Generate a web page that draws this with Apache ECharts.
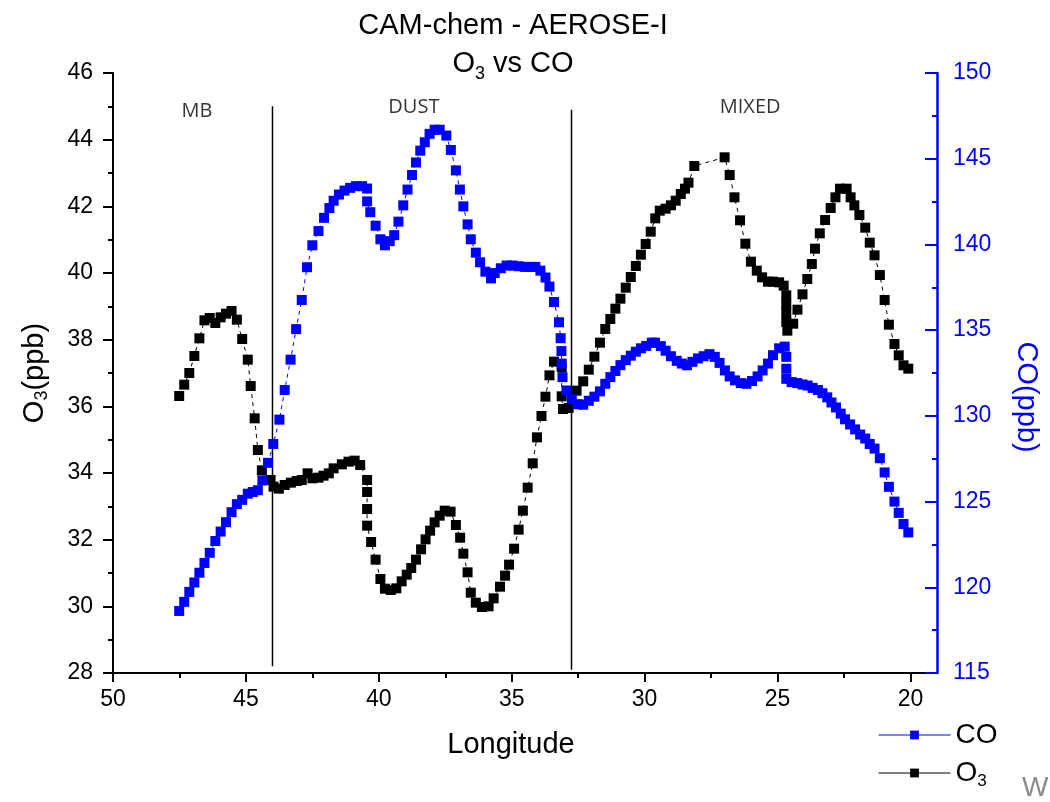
<!DOCTYPE html>
<html>
<head>
<meta charset="utf-8">
<script src="https://cdn.jsdelivr.net/npm/echarts@6/dist/echarts.min.js"></script>
<style>
    html, body { margin: 0; padding: 0; background: #fff; }
    #chart { width: 1050px; height: 802px; }
</style>
</head>
<body>
<div id="chart"></div>
<script>
// longitude (deg) / values
let o3Lon = [47.51, 47.32, 47.13, 46.94, 46.75, 46.56, 46.36, 46.15, 45.95, 45.75, 45.54, 45.34, 45.14, 44.93,
    44.82, 44.67, 44.55, 44.40, 44.07, 43.96, 43.76, 43.54, 43.31, 43.09, 42.90, 42.68, 42.50, 42.27, 42.08,
    41.88, 41.70, 41.39, 41.14, 40.91, 40.70, 40.44, 40.44, 40.44, 40.44, 40.29, 40.12, 39.94, 39.77, 39.55,
    39.34, 39.14, 38.95, 38.78, 38.60, 38.41, 38.24, 38.07, 37.90, 37.71, 37.52, 37.30, 37.10, 36.94, 36.82,
    36.66, 36.54, 36.35, 36.12, 35.87, 35.68, 35.44, 35.25, 35.10, 34.91, 34.74, 34.58, 34.40, 34.21, 34.05,
    33.88, 33.73, 33.58, 33.41, 33.12, 33.12, 33.07, 32.86, 32.56, 32.31, 32.10, 31.89, 31.68, 31.48, 31.29,
    31.10, 30.91, 30.71, 30.52, 30.33, 30.14, 29.96, 29.77, 29.60, 29.43, 29.21, 29.01, 28.83, 28.64, 28.48,
    28.35, 28.13, 26.99, 26.80, 26.62, 26.41, 26.21, 26.00, 25.78, 25.58, 25.36, 25.17, 24.94, 24.77, 24.67,
    24.67, 24.67, 24.67, 24.63, 24.41, 24.25, 24.06, 23.88, 23.71, 23.59, 23.41, 23.21, 23.00, 22.82, 22.65,
    22.40, 22.25, 22.11, 21.92, 21.70, 21.53, 21.35, 21.15, 20.97, 20.81, 20.60, 20.44, 20.26, 20.08];
let o3Val = [36.31, 36.65, 37.00, 37.51, 38.04, 38.58, 38.65, 38.50, 38.67, 38.78, 38.86, 38.60, 38.02, 37.40,
    36.61, 35.64, 34.69, 34.08, 33.79, 33.59, 33.53, 33.64, 33.71, 33.76, 33.79, 33.99, 33.84, 33.86, 33.92,
    33.99, 34.14, 34.26, 34.34, 34.37, 34.24, 33.79, 33.43, 32.92, 32.42, 31.93, 31.40, 30.82, 30.53, 30.49,
    30.54, 30.75, 30.95, 31.15, 31.40, 31.71, 32.01, 32.27, 32.52, 32.72, 32.87, 32.84, 32.44, 32.06, 31.58,
    31.02, 30.41, 30.11, 29.98, 30.00, 30.24, 30.59, 30.92, 31.25, 31.73, 32.30, 32.87, 33.56, 34.29, 35.07,
    35.71, 36.29, 36.93, 37.34, 37.18, 36.30, 35.92, 35.95, 36.47, 36.75, 37.10, 37.49, 37.91, 38.32, 38.62,
    38.93, 39.23, 39.56, 39.88, 40.21, 40.55, 40.87, 41.24, 41.64, 41.87, 41.93, 42.03, 42.17, 42.37, 42.53,
    42.71, 43.21, 43.47, 42.94, 42.27, 41.58, 40.88, 40.34, 40.07, 39.87, 39.74, 39.74, 39.72, 39.62, 39.33,
    39.06, 38.81, 38.53, 38.27, 38.48, 38.90, 39.36, 39.82, 40.27, 40.73, 41.19, 41.59, 41.95, 42.27, 42.53,
    42.53, 42.27, 42.03, 41.74, 41.36, 40.91, 40.53, 39.94, 39.19, 38.45, 37.87, 37.53, 37.23, 37.13];

let coLon = [47.51, 47.32, 47.13, 46.94, 46.75, 46.56, 46.36, 46.15, 45.95, 45.75, 45.54, 45.34, 45.14, 44.93,
    44.74, 44.55, 44.38, 44.17, 43.97, 43.74, 43.54, 43.32, 43.11, 42.90, 42.70, 42.50, 42.27, 42.06, 41.86,
    41.70, 41.50, 41.29, 41.08, 40.86, 40.63, 40.44, 40.44, 40.32, 40.12, 39.94, 39.77, 39.59, 39.42, 39.26,
    39.08, 38.92, 38.75, 38.60, 38.44, 38.27, 38.09, 37.90, 37.71, 37.46, 37.29, 37.10, 36.95, 36.82, 36.66,
    36.54, 36.35, 36.19, 35.99, 35.78, 35.64, 35.41, 35.19, 34.97, 34.74, 34.51, 34.30, 34.11, 33.92, 33.73,
    33.58, 33.41, 33.22, 33.16, 33.13, 33.12, 33.09, 32.94, 32.74, 32.52, 32.31, 32.10, 31.89, 31.68, 31.48,
    31.29, 31.10, 30.91, 30.71, 30.52, 30.33, 30.14, 29.94, 29.73, 29.61, 29.39, 29.21, 29.01, 28.79, 28.60,
    28.41, 28.20, 27.99, 27.78, 27.56, 27.36, 27.18, 26.98, 26.80, 26.60, 26.38, 26.17, 25.96, 25.75, 25.56,
    25.36, 25.17, 24.94, 24.73, 24.67, 24.67, 24.67, 24.47, 24.26, 24.06, 23.87, 23.68, 23.48, 23.31, 23.13,
    22.97, 22.80, 22.62, 22.46, 22.27, 22.08, 21.89, 21.70, 21.53, 21.35, 21.15, 20.97, 20.81, 20.60, 20.44,
    20.26, 20.08];
let coVal = [118.62, 119.15, 119.73, 120.28, 120.85, 121.42, 122.01, 122.70, 123.25, 123.80, 124.38, 124.85,
    125.10, 125.46, 125.56, 125.66, 126.23, 127.26, 128.36, 129.78, 131.51, 133.28, 135.06, 136.76, 138.67,
    139.95, 140.78, 141.55, 142.12, 142.55, 142.91, 143.14, 143.30, 143.40, 143.40, 143.26, 142.51, 141.88,
    141.09, 140.30, 139.95, 140.19, 140.54, 141.33, 142.28, 143.20, 144.05, 144.78, 145.47, 145.96, 146.45,
    146.69, 146.69, 146.35, 145.51, 144.32, 143.20, 142.22, 141.17, 140.30, 139.52, 138.96, 138.41, 138.02,
    138.33, 138.61, 138.77, 138.77, 138.73, 138.69, 138.69, 138.69, 138.47, 138.07, 137.54, 136.64, 135.46,
    134.53, 133.78, 133.05, 132.26, 131.48, 130.98, 130.68, 130.65, 130.88, 131.12, 131.43, 131.87, 132.26,
    132.62, 132.96, 133.25, 133.51, 133.74, 133.94, 134.08, 134.27, 134.27, 134.07, 133.80, 133.48, 133.21,
    133.05, 132.95, 133.15, 133.35, 133.48, 133.60, 133.44, 133.09, 132.65, 132.30, 132.07, 131.91, 131.87,
    132.03, 132.30, 132.65, 133.05, 133.54, 133.94, 134.04, 133.44, 132.75, 132.16, 131.97, 131.91, 131.83,
    131.77, 131.63, 131.51, 131.32, 131.08, 130.78, 130.49, 130.13, 129.80, 129.50, 129.21, 128.91, 128.68,
    128.36, 128.09, 127.53, 126.70, 125.86, 125.00, 124.34, 123.69, 123.20];

// region labels and divider lines
let regionNames = ['MB', 'DUST', 'MIXED'];
let regionLon = [46.84, 38.68, 26.03];
let regionO3 = [44.86, 44.98, 44.96];
let dividerLon = [44.0, 32.75];
let dividerBottom = [28.2, 28.1];
let dividerTop = [45.0, 44.9];

// tick labels
let xMajorTicks = [20, 25, 30, 35, 40, 45, 50];
let xMinorTicks = [22.5, 27.5, 32.5, 37.5, 42.5, 47.5];

(function () {
    let chart = echarts.init(document.getElementById('chart'));
    let font = "'Liberation Sans', Arial, sans-serif";
    let blue = '#0000ff';

    let pairs = function (xs, ys) {
        return xs.map(function (x, i) { return [x, ys[i]]; });
    };

    let dividers = dividerLon.map(function (lon, i) {
        return {
            type: 'line',
            silent: true,
            symbol: 'none',
            yAxisIndex: 0,
            data: [[lon, dividerBottom[i]], [lon, dividerTop[i]]],
            lineStyle: { color: '#000', width: 1.5 },
            z: 1
        };
    });

    let option = {
        animation: false,
        backgroundColor: '#fff',
        textStyle: { fontFamily: font },
        title: {
            left: 508,
            top: 2,
            textAlign: 'center',
            text: '{t|CAM-chem - AEROSE-I}\n{t|O}{s|3}{t| vs CO}',
            textStyle: {
                fontWeight: 'normal',
                rich: {
                    t: { fontSize: 29, lineHeight: 38, color: '#000', fontWeight: 'normal', fontFamily: font },
                    s: { fontSize: 18, lineHeight: 18, verticalAlign: 'bottom', color: '#000', fontWeight: 'normal', fontFamily: font }
                }
            }
        },
        legend: {
            orient: 'vertical',
            left: 873,
            top: 716,
            itemWidth: 72,
            itemHeight: 11,
            itemGap: 10,
            data: ['CO', 'O3'],
            lineStyle: { type: 'solid', width: 1 },
            formatter: function (name) {
                return name === 'O3' ? '{n|O}{s|3}' : '{n|CO}';
            },
            textStyle: {
                rich: {
                    n: { fontSize: 28, lineHeight: 34, color: '#000', fontFamily: font },
                    s: { fontSize: 17, lineHeight: 17, verticalAlign: 'bottom', color: '#000', fontFamily: font }
                }
            }
        },
        graphic: [{
            type: 'text',
            left: 1022,
            top: 774,
            style: { text: 'W', fontSize: 28, fontFamily: font, fill: '#8c8c8c' }
        }],
        grid: { left: 113, right: 113, top: 73, bottom: 129 },
        xAxis: [{
            type: 'value',
            min: 19,
            max: 50,
            inverse: true,
            position: 'bottom',
            name: 'Longitude',
            nameLocation: 'middle',
            nameGap: 57,
            nameTextStyle: { fontSize: 29, color: '#000', padding: [0, 28, 0, 0] },
            axisLine: { lineStyle: { color: '#000', width: 2 } },
            axisTick: { customValues: xMajorTicks, length: 9, lineStyle: { width: 2, color: '#000' } },
            axisLabel: { customValues: xMajorTicks, fontSize: 23, color: '#000', margin: 15 },
            splitLine: { show: false }
        }, {
            // minor ticks only
            type: 'value',
            min: 19,
            max: 50,
            inverse: true,
            position: 'bottom',
            axisLine: { show: false },
            axisTick: { customValues: xMinorTicks, length: 5, lineStyle: { width: 2, color: '#000' } },
            axisLabel: { show: false },
            splitLine: { show: false }
        }],
        yAxis: [{
            type: 'value',
            min: 28,
            max: 46,
            interval: 2,
            position: 'left',
            name: '{a|O}{s|3}{a|(ppb)}',
            nameLocation: 'middle',
            nameGap: 62,
            nameTextStyle: {
                rich: {
                    a: { fontSize: 29, lineHeight: 32, color: '#000', fontFamily: font },
                    s: { fontSize: 18, lineHeight: 18, verticalAlign: 'bottom', color: '#000', fontFamily: font }
                }
            },
            axisLine: { show: true, lineStyle: { color: '#000', width: 2 } },
            axisTick: { show: true, length: 10, lineStyle: { width: 2, color: '#000' } },
            minorTick: { show: true, splitNumber: 2, length: 5, lineStyle: { width: 2, color: '#000' } },
            axisLabel: { fontSize: 23, color: '#000', margin: 20 },
            splitLine: { show: false }
        }, {
            type: 'value',
            min: 115,
            max: 150,
            interval: 5,
            position: 'right',
            name: 'CO(ppb)',
            nameLocation: 'middle',
            nameRotate: -90,
            nameGap: 74,
            nameTextStyle: { fontSize: 29, color: blue, padding: [0, 0, 0, 48] },
            axisLine: { show: true, lineStyle: { color: blue, width: 2.5 } },
            axisTick: { show: true, inside: true, length: 12, lineStyle: { width: 2, color: blue } },
            minorTick: { show: true, splitNumber: 2, length: 5, lineStyle: { width: 2, color: blue } },
            axisLabel: { fontSize: 23, color: blue, margin: 16 },
            splitLine: { show: false }
        }],
        series: dividers.concat([
            {
                name: 'O3',
                type: 'line',
                yAxisIndex: 0,
                data: pairs(o3Lon, o3Val),
                symbol: 'rect',
                symbolSize: 10,
                showAllSymbol: true,
                itemStyle: { color: '#000' },
                lineStyle: { color: '#000', width: 1, type: [4, 4] },
                z: 3
            },
            {
                name: 'CO',
                type: 'line',
                yAxisIndex: 1,
                data: pairs(coLon, coVal),
                symbol: 'rect',
                symbolSize: 10,
                showAllSymbol: true,
                itemStyle: { color: blue },
                lineStyle: { color: blue, width: 1, type: [4, 4] },
                z: 4
            },
            {
                name: 'regions',
                type: 'scatter',
                yAxisIndex: 0,
                silent: true,
                symbolSize: 0,
                data: regionLon.map(function (lon, i) {
                    return { value: [lon, regionO3[i]], name: regionNames[i] };
                }),
                label: {
                    show: true,
                    position: 'inside',
                    formatter: '{b}',
                    fontFamily: "'Open Sans', sans-serif",
                    fontSize: 20,
                    color: '#000'
                }
            }
        ])
    };

    chart.setOption(option);
})();
</script>
</body>
</html>
